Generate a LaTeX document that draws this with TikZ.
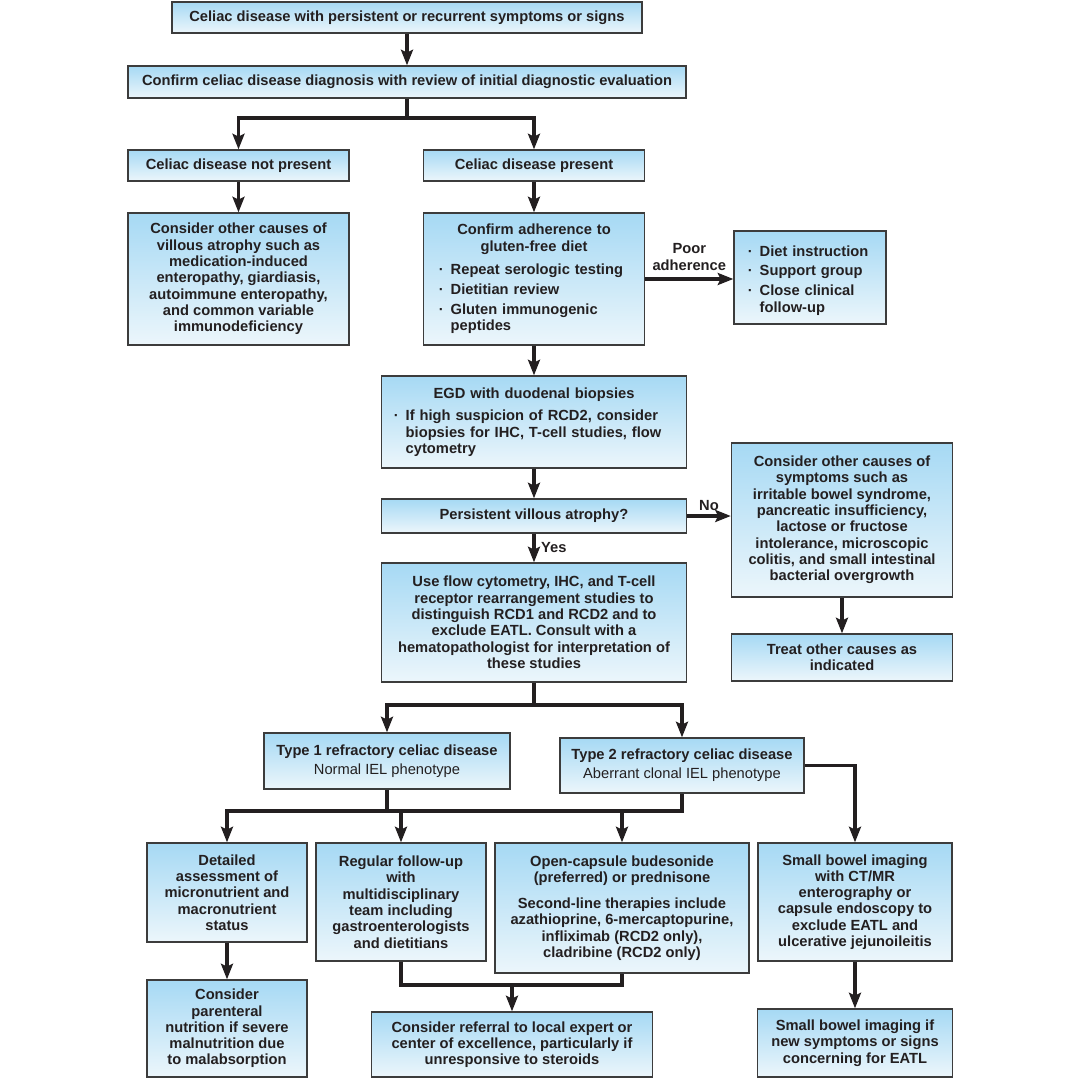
\documentclass[tikz,border=0pt]{standalone}
\usepackage{fontspec}
\setmainfont{Liberation Sans}
\usetikzlibrary{arrows.meta}
\setlength{\parindent}{0pt}

\definecolor{boxtop}{RGB}{166,217,244}
\definecolor{boxbottom}{RGB}{236,246,251}
\definecolor{boxline}{RGB}{60,60,60}
\definecolor{ink}{RGB}{35,31,32}

\newcommand{\dotitem}[1]{\par\hangindent=0.8em\hangafter=1\noindent\makebox[0.8em][l]{\textperiodcentered}#1\par}
\newcommand{\itemgap}{\vspace{2.6pt}}

\tikzset{
  box/.style={draw=boxline, line width=1pt, top color=boxtop, bottom color=boxbottom,
    text=ink, font=\fontsize{10.45}{11.6}\selectfont\bfseries, align=center, inner sep=2pt},
  flowline/.style={draw=ink, line width=2.2pt},
  flowarrow/.style={flowline, -{Stealth[length=11pt,width=8.5pt,inset=2pt]}},
  flowlabel/.style={text=ink, font=\fontsize{10.45}{11.6}\selectfont\bfseries, align=center, inner sep=2pt}
}

\begin{document}
\begin{tikzpicture}[x=0.025cm, y=-0.025cm]
  \useasboundingbox (0,0) rectangle (1080,1080);

  % Draw boxes, diagnosis part
  \node[box, minimum width=11.75cm, minimum height=0.775cm] (start) at (407,17.5) {Celiac disease with persistent or recurrent symptoms or signs};
  \node[box, minimum width=13.95cm, minimum height=0.8cm] (confirm) at (407,82) {Confirm celiac disease diagnosis with review of initial diagnostic evaluation};
  \node[box, minimum width=5.525cm, minimum height=0.775cm] (nocd) at (238.5,165.5) {Celiac disease not present};
  \node[box, minimum width=5.525cm, minimum height=0.775cm] (yescd) at (534,165.5) {Celiac disease present};
  \node[box, minimum width=5.525cm, minimum height=3.3cm] (othercauses) at (238.5,279) {Consider other causes of\\villous atrophy such as\\medication-induced\\enteropathy, giardiasis,\\autoimmune enteropathy,\\and common variable\\immunodeficiency};
  \node[box, minimum width=5.525cm, minimum height=3.3cm, text width=4.75cm, align=left] (adherence) at (534,279) {{\centering Confirm adherence to\\gluten-free diet\par}\vspace{5.2pt}\dotitem{Repeat serologic testing}\itemgap\dotitem{Dietitian review}\itemgap\dotitem{Gluten immunogenic\newline peptides}};
  \node[box, minimum width=3.8cm, minimum height=2.325cm, text width=3.1cm, align=left] (support) at (810,277.5) {\dotitem{Diet instruction}\itemgap\dotitem{Support group}\itemgap\dotitem{Close clinical\newline follow-up}};

  % Draw boxes, biopsy part
  \node[box, minimum width=7.625cm, minimum height=2.3cm, text width=7.0cm, align=left] (egd) at (534,422) {{\centering EGD with duodenal biopsies\par}\vspace{4.6pt}\dotitem{If high suspicion of RCD2, consider\newline biopsies for IHC, T-cell studies, flow\newline cytometry}};
  \node[box, minimum width=7.625cm, minimum height=0.85cm] (atrophy) at (534,516) {Persistent villous atrophy?};
  \node[box, minimum width=5.525cm, minimum height=3.85cm] (othersymptoms) at (842,520) {Consider other causes of\\symptoms such as\\irritable bowel syndrome,\\pancreatic insufficiency,\\lactose or fructose\\intolerance, microscopic\\colitis, and small intestinal\\bacterial overgrowth};
  \node[box, minimum width=5.525cm, minimum height=1.175cm] (treatother) at (842,657.5) {Treat other causes as\\indicated};
  \node[box, minimum width=7.625cm, minimum height=2.975cm] (flow) at (534,622.5) {Use flow cytometry, IHC, and T-cell\\receptor rearrangement studies to\\distinguish RCD1 and RCD2 and to\\exclude EATL. Consult with a\\hematopathologist for interpretation of\\these studies};

  % Draw boxes, refractory disease
  \node[box, minimum width=6.15cm, minimum height=1.4cm] (typeone) at (387,761) {Type 1 refractory celiac disease\\[2pt]{\mdseries Normal IEL phenotype}};
  \node[box, minimum width=6.1cm, minimum height=1.375cm] (typetwo) at (682,765.5) {Type 2 refractory celiac disease\\[2pt]{\mdseries Aberrant clonal IEL phenotype}};
  \node[box, minimum width=4cm, minimum height=2.475cm] (nutrients) at (227,892.5) {Detailed\\assessment of\\micronutrient and\\macronutrient\\status};
  \node[box, minimum width=4.25cm, minimum height=2.95cm] (followup) at (401,902) {Regular follow-up\\with\\multidisciplinary\\team including\\gastroenterologists\\and dietitians};
  \node[box, minimum width=6.35cm, minimum height=3.25cm] (steroids) at (622,908) {Open-capsule budesonide\\(preferred) or prednisone\\[7pt]Second-line therapies include\\azathioprine, 6-mercaptopurine,\\infliximab (RCD2 only),\\cladribine (RCD2 only)};
  \node[box, minimum width=4.85cm, minimum height=2.95cm] (imaging) at (855,902) {Small bowel imaging\\with CT/MR\\enterography or\\capsule endoscopy to\\exclude EATL and\\ulcerative jejunoileitis};
  \node[box, minimum width=4cm, minimum height=2.425cm] (parenteral) at (227,1028.5) {Consider\\parenteral\\nutrition if severe\\malnutrition due\\to malabsorption};
  \node[box, minimum width=7.025cm, minimum height=1.625cm] (referral) at (512,1044.5) {Consider referral to local expert or\\center of excellence, particularly if\\unresponsive to steroids};
  \node[box, minimum width=4.875cm, minimum height=1.7cm] (reimaging) at (855,1043) {Small bowel imaging if\\new symptoms or signs\\concerning for EATL};

  % Branch points
  \coordinate (split1) at (407,118);
  \coordinate (split2) at (534,705);
  \coordinate (join1) at (387,811);
  \coordinate (join2) at (682,811);
  \coordinate (join3) at (512,985);

  % Draw connectors
  \draw[flowarrow] (start) -- (confirm);
  \draw[flowline] (confirm) -- (split1);
  \draw[flowarrow] (split1) -| (nocd);
  \draw[flowarrow] (split1) -| (yescd);
  \draw[flowarrow] (nocd) -- (othercauses);
  \draw[flowarrow] (yescd) -- (adherence);
  \draw[flowarrow] (adherence.east) -- (adherence.east -| support.west) node[midway, above=3pt, flowlabel] {Poor\\adherence};
  \draw[flowarrow] (adherence) -- (egd);
  \draw[flowarrow] (egd) -- (atrophy);
  \draw[flowarrow] (atrophy.east) -- (atrophy.east -| othersymptoms.west) node[midway, above=1pt, flowlabel] {No};
  \draw[flowarrow] (atrophy) -- (flow) node[midway, right=2pt, flowlabel] {Yes};
  \draw[flowarrow] (othersymptoms) -- (treatother);
  \draw[flowline] (flow) -- (split2);
  \draw[flowarrow] (split2) -| (typeone);
  \draw[flowarrow] (split2) -| (typetwo);
  \draw[flowline] (typeone) -- (join1) -- (join2) -- (typetwo);
  \draw[flowarrow] (join1) -| (nutrients);
  \draw[flowarrow] (join1) -| (followup);
  \draw[flowarrow] (join2) -| (steroids);
  \draw[flowarrow] (typetwo.east) -| (imaging);
  \draw[flowarrow] (nutrients) -- (parenteral);
  \draw[flowline] (followup) |- (join3) -| (steroids);
  \draw[flowarrow] (join3) -- (referral);
  \draw[flowarrow] (imaging) -- (reimaging);
\end{tikzpicture}
\end{document}
